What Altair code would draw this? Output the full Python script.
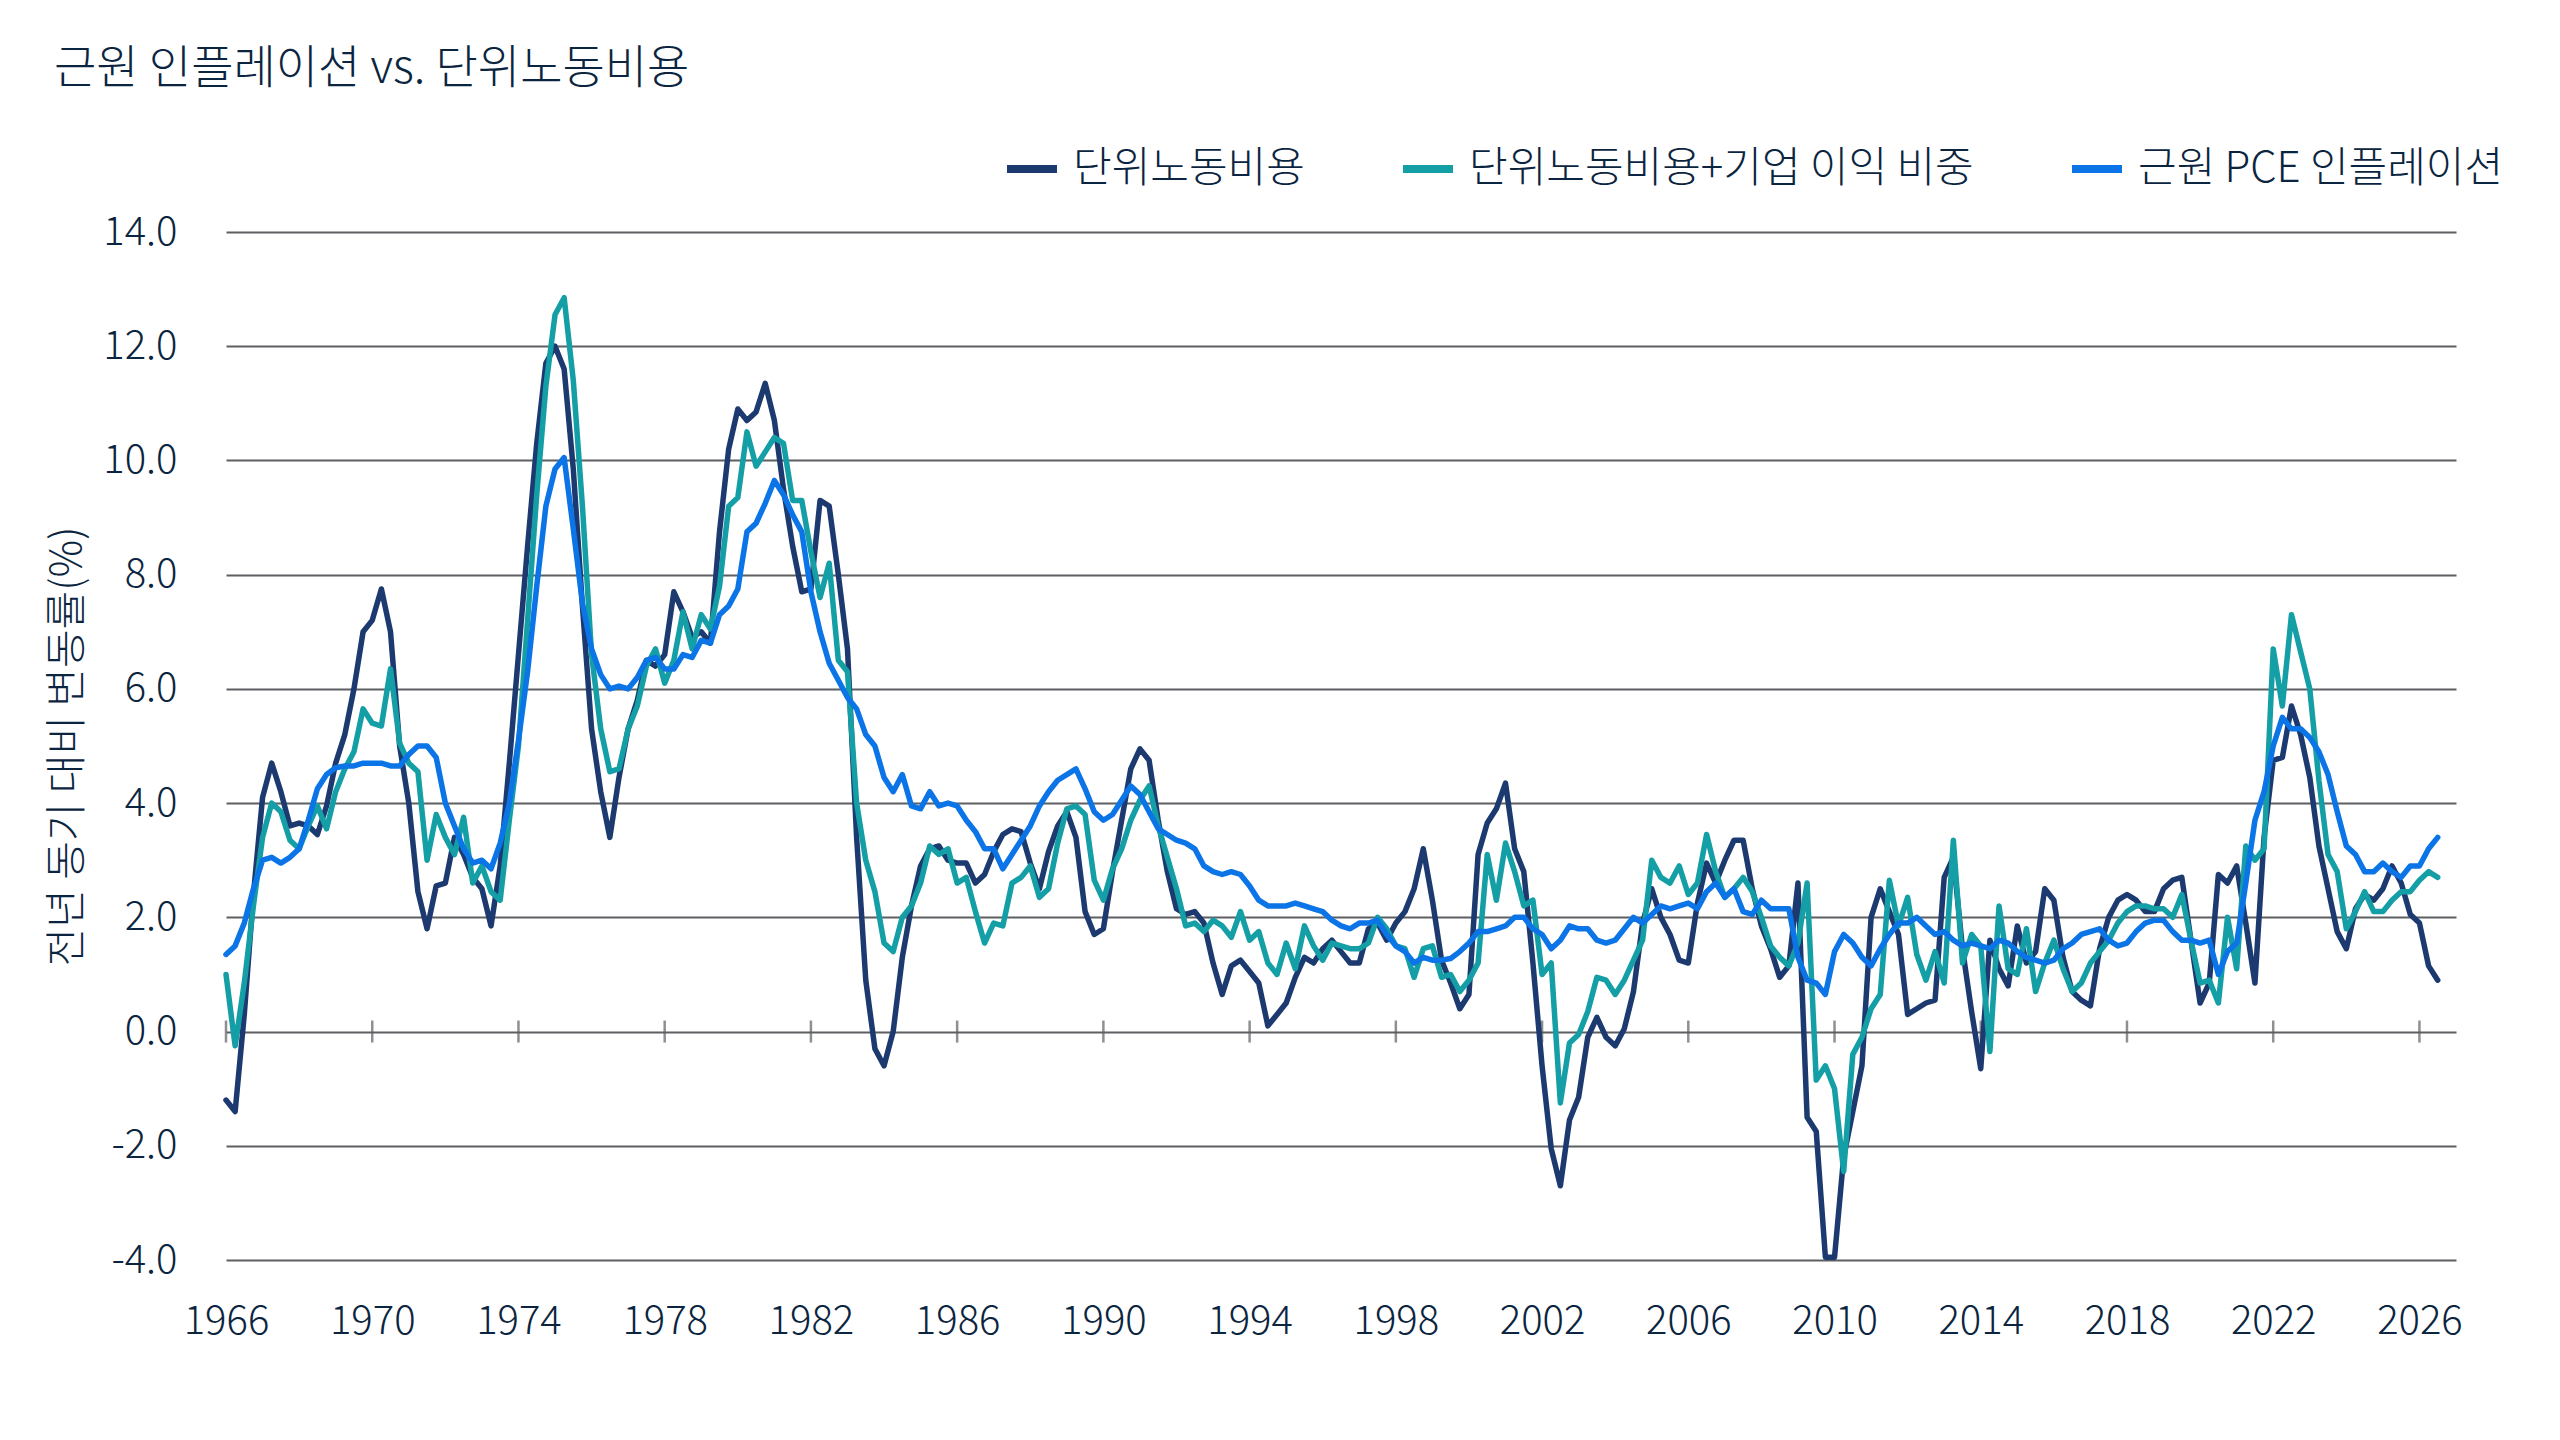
import altair as alt
import pandas as pd

# ---------------- data (quarterly, 1966Q1 .. 2026Q3), % y/y ----------------
ulc = [
    -1.2, -1.4, 0.3, 2.4,      # 1966
    4.1, 4.7, 4.2, 3.6,        # 1967
    3.65, 3.6, 3.45, 3.95,     # 1968
    4.7, 5.2, 6.0, 7.0,        # 1969
    7.2, 7.75, 7.0, 5.0,       # 1970
    4.0, 2.45, 1.8, 2.55,      # 1971
    2.6, 3.4, 3.1, 2.7,        # 1972
    2.5, 1.85, 2.9, 4.7,       # 1973
    6.6, 8.5, 10.3, 11.7,      # 1974
    12.0, 11.6, 9.85, 7.45,    # 1975
    5.3, 4.2, 3.4, 4.45,       # 1976
    5.3, 5.8, 6.5, 6.4,        # 1977
    6.6, 7.7, 7.35, 6.9,       # 1978
    7.0, 6.8, 8.75, 10.2,      # 1979
    10.9, 10.7, 10.85, 11.35,  # 1980
    10.7, 9.5, 8.5, 7.7,       # 1981
    7.75, 9.3, 9.2, 8.0,       # 1982
    6.7, 3.4, 0.9, -0.3,       # 1983
    -0.6, 0.0, 1.3, 2.2,       # 1984
    2.9, 3.2, 3.25, 3.0,       # 1985
    2.95, 2.95, 2.6, 2.75,     # 1986
    3.15, 3.45, 3.55, 3.5,     # 1987
    2.95, 2.5, 3.15, 3.6,      # 1988
    3.85, 3.4, 2.1, 1.7,       # 1989
    1.8, 2.8, 3.7, 4.6,        # 1990
    4.95, 4.75, 3.7, 2.8,      # 1991
    2.15, 2.05, 2.1, 1.9,      # 1992
    1.2, 0.65, 1.15, 1.25,     # 1993
    1.05, 0.85, 0.1, 0.3,      # 1994
    0.5, 0.95, 1.3, 1.2,       # 1995
    1.45, 1.6, 1.4, 1.2,       # 1996
    1.2, 1.8, 1.9, 1.6,        # 1997
    1.9, 2.1, 2.5, 3.2,        # 1998
    2.3, 1.25, 0.85, 0.4,      # 1999
    0.65, 3.1, 3.65, 3.9,      # 2000
    4.35, 3.2, 2.8, 1.2,       # 2001
    -0.6, -2.05, -2.7, -1.55,  # 2002
    -1.15, -0.1, 0.25, -0.1,   # 2003
    -0.25, 0.05, 0.7, 1.9,     # 2004
    2.5, 2.0, 1.7, 1.25,       # 2005
    1.2, 2.25, 2.95, 2.6,      # 2006
    3.0, 3.35, 3.35, 2.5,      # 2007
    1.85, 1.45, 0.95, 1.15,    # 2008
    2.6, -1.5, -1.75, -3.95,   # 2009
    -3.95, -2.2, -1.4, -0.6,   # 2010
    2.0, 2.5, 2.1, 1.7,        # 2011
    0.3, 0.4, 0.5, 0.55,       # 2012
    2.7, 3.05, 1.45, 0.35,     # 2013
    -0.65, 1.6, 1.1, 0.8,      # 2014
    1.85, 1.2, 1.4, 2.5,       # 2015
    2.3, 1.3, 0.7, 0.55,       # 2016
    0.45, 1.45, 2.0, 2.3,      # 2017
    2.4, 2.3, 2.1, 2.1,        # 2018
    2.5, 2.65, 2.7, 1.6,       # 2019
    0.5, 0.85, 2.75, 2.6,      # 2020
    2.9, 1.9, 0.85, 3.4,       # 2021
    4.75, 4.8, 5.7, 5.2,       # 2022
    4.45, 3.25, 2.5, 1.75,     # 2023
    1.45, 2.15, 2.4, 2.3,      # 2024
    2.5, 2.9, 2.6, 2.05,       # 2025
    1.9, 1.15, 0.9,            # 2026
]

ulc_profit = [
    1.0, -0.25, 0.85, 2.2,     # 1966
    3.4, 4.0, 3.85, 3.35,      # 1967
    3.2, 3.6, 3.95, 3.55,      # 1968
    4.2, 4.6, 4.9, 5.65,       # 1969
    5.4, 5.35, 6.35, 5.05,     # 1970
    4.7, 4.55, 3.0, 3.8,       # 1971
    3.4, 3.1, 3.75, 2.6,       # 1972
    2.9, 2.45, 2.3, 3.7,       # 1973
    5.0, 7.2, 9.4, 11.3,       # 1974
    12.55, 12.85, 11.4, 9.2,   # 1975
    6.6, 5.3, 4.55, 4.6,       # 1976
    5.3, 5.7, 6.4, 6.7,        # 1977
    6.1, 6.5, 7.35, 6.7,       # 1978
    7.3, 7.05, 7.8, 9.2,       # 1979
    9.35, 10.5, 9.9, 10.15,    # 1980
    10.4, 10.3, 9.3, 9.3,      # 1981
    8.4, 7.6, 8.2, 6.5,        # 1982
    6.3, 4.0, 3.0, 2.45,       # 1983
    1.55, 1.4, 2.0, 2.2,       # 1984
    2.6, 3.25, 3.1, 3.2,       # 1985
    2.6, 2.7, 2.1, 1.55,       # 1986
    1.9, 1.85, 2.6, 2.7,       # 1987
    2.9, 2.35, 2.5, 3.3,       # 1988
    3.9, 3.95, 3.8, 2.65,      # 1989
    2.3, 2.85, 3.2, 3.7,       # 1990
    4.05, 4.3, 3.6, 3.05,      # 1991
    2.5, 1.85, 1.9, 1.75,      # 1992
    1.95, 1.85, 1.65, 2.1,     # 1993
    1.6, 1.75, 1.2, 1.0,       # 1994
    1.55, 1.1, 1.85, 1.5,      # 1995
    1.25, 1.55, 1.5, 1.45,     # 1996
    1.45, 1.55, 2.0, 1.8,      # 1997
    1.5, 1.45, 0.95, 1.45,     # 1998
    1.5, 0.95, 1.0, 0.7,       # 1999
    0.9, 1.2, 3.1, 2.3,        # 2000
    3.3, 2.8, 2.2, 2.3,        # 2001
    1.0, 1.2, -1.25, -0.2,     # 2002
    -0.05, 0.35, 0.95, 0.9,    # 2003
    0.65, 0.9, 1.25, 1.6,      # 2004
    3.0, 2.7, 2.6, 2.9,        # 2005
    2.4, 2.6, 3.45, 2.8,       # 2006
    2.35, 2.5, 2.7, 2.45,      # 2007
    2.0, 1.5, 1.3, 1.15,       # 2008
    1.55, 2.6, -0.85, -0.6,    # 2009
    -1.0, -2.45, -0.4, -0.1,   # 2010
    0.4, 0.65, 2.65, 1.85,     # 2011
    2.35, 1.35, 0.9, 1.4,      # 2012
    0.85, 3.35, 1.2, 1.7,      # 2013
    1.5, -0.35, 2.2, 1.1,      # 2014
    1.0, 1.8, 0.7, 1.2,        # 2015
    1.6, 1.1, 0.7, 0.85,       # 2016
    1.2, 1.4, 1.6, 1.9,        # 2017
    2.1, 2.2, 2.2, 2.15,       # 2018
    2.15, 2.0, 2.4, 1.6,       # 2019
    0.85, 0.9, 0.5, 2.0,       # 2020
    1.1, 3.25, 3.0, 3.2,       # 2021
    6.7, 5.7, 7.3, 6.65,       # 2022
    6.0, 4.4, 3.1, 2.8,        # 2023
    1.8, 2.1, 2.45, 2.1,       # 2024
    2.1, 2.3, 2.45, 2.45,      # 2025
    2.65, 2.8, 2.7,            # 2026
]

core_pce = [
    1.35, 1.5, 1.9, 2.5,       # 1966
    3.0, 3.05, 2.95, 3.05,     # 1967
    3.2, 3.7, 4.25, 4.5,       # 1968
    4.62, 4.65, 4.65, 4.7,     # 1969
    4.7, 4.7, 4.65, 4.65,      # 1970
    4.85, 5.0, 5.0, 4.8,       # 1971
    4.0, 3.6, 3.2, 2.95,       # 1972
    3.0, 2.85, 3.3, 4.0,       # 1973
    5.1, 6.3, 7.8, 9.2,        # 1974
    9.85, 10.05, 8.8, 7.5,     # 1975
    6.7, 6.25, 6.0, 6.05,      # 1976
    6.0, 6.2, 6.5, 6.55,       # 1977
    6.35, 6.35, 6.6, 6.55,     # 1978
    6.85, 6.8, 7.3, 7.45,      # 1979
    7.75, 8.75, 8.9, 9.25,     # 1980
    9.65, 9.4, 9.05, 8.75,     # 1981
    7.7, 7.0, 6.45, 6.15,      # 1982
    5.85, 5.65, 5.2, 5.0,      # 1983
    4.45, 4.2, 4.5, 3.95,      # 1984
    3.9, 4.2, 3.95, 4.0,       # 1985
    3.95, 3.7, 3.5, 3.2,       # 1986
    3.2, 2.85, 3.1, 3.35,      # 1987
    3.6, 3.95, 4.2, 4.4,       # 1988
    4.5, 4.6, 4.25, 3.85,      # 1989
    3.7, 3.8, 4.05, 4.3,       # 1990
    4.15, 3.85, 3.55, 3.45,    # 1991
    3.35, 3.3, 3.2, 2.9,       # 1992
    2.8, 2.75, 2.8, 2.75,      # 1993
    2.55, 2.3, 2.2, 2.2,       # 1994
    2.2, 2.25, 2.2, 2.15,      # 1995
    2.1, 1.95, 1.85, 1.8,      # 1996
    1.9, 1.9, 1.95, 1.7,       # 1997
    1.5, 1.4, 1.2, 1.3,        # 1998
    1.25, 1.25, 1.28, 1.4,     # 1999
    1.55, 1.75, 1.75, 1.8,     # 2000
    1.85, 2.0, 2.0, 1.8,       # 2001
    1.7, 1.45, 1.6, 1.85,      # 2002
    1.8, 1.8, 1.6, 1.55,       # 2003
    1.6, 1.8, 2.0, 1.9,        # 2004
    2.05, 2.2, 2.15, 2.2,      # 2005
    2.25, 2.15, 2.45, 2.6,     # 2006
    2.35, 2.5, 2.1, 2.05,      # 2007
    2.3, 2.15, 2.15, 2.15,     # 2008
    1.3, 0.9, 0.85, 0.65,      # 2009
    1.4, 1.7, 1.55, 1.3,       # 2010
    1.15, 1.45, 1.7, 1.9,      # 2011
    1.9, 2.0, 1.85, 1.7,       # 2012
    1.75, 1.6, 1.5, 1.55,      # 2013
    1.5, 1.45, 1.6, 1.55,      # 2014
    1.4, 1.3, 1.25, 1.2,       # 2015
    1.25, 1.45, 1.55, 1.7,     # 2016
    1.75, 1.8, 1.6, 1.5,       # 2017
    1.55, 1.75, 1.9, 1.95,     # 2018
    1.95, 1.75, 1.6, 1.6,      # 2019
    1.55, 1.6, 1.0, 1.4,       # 2020
    1.55, 2.6, 3.7, 4.2,       # 2021
    5.0, 5.5, 5.3, 5.3,        # 2022
    5.15, 4.9, 4.5, 3.85,      # 2023
    3.25, 3.1, 2.8, 2.8,       # 2024
    2.95, 2.8, 2.7, 2.9,       # 2025
    2.9, 3.2, 3.4,             # 2026
]

series_names = ["단위노동비용", "단위노동비용+기업 이익 비중", "근원 PCE 인플레이션"]
series_colors = ["#1c3a70", "#149ea6", "#0b74e6"]
x_ticks = [1966, 1970, 1974, 1978, 1982, 1986, 1990, 1994, 1998, 2002, 2006, 2010, 2014, 2018, 2022, 2026]
y_ticks = [-4, -2, 0, 2, 4, 6, 8, 10, 12, 14]

title_text = "근원 인플레이션 vs. 단위노동비용"
y_title = "전년 동기 대비 변동률(%)"

# ---------------- build table ----------------
t_axis = [1966 + i * 0.25 for i in range(len(ulc))]
rows = []
for name, vals in zip(series_names, [ulc, ulc_profit, core_pce]):
    for t, v in zip(t_axis, vals):
        rows.append({"t": t, "v": v, "series": name})
df = pd.DataFrame(rows)
tick_df = pd.DataFrame({"t": x_ticks, "v": [0] * len(x_ticks)})

FONT = "Noto Sans CJK KR"
TEXT = "#0b2540"
GRID = "#5d5f62"

color = alt.Color(
    "series:N",
    scale=alt.Scale(domain=series_names, range=series_colors),
    legend=alt.Legend(
        title=None, orient="none", legendX=777, legendY=-92,
        direction="horizontal", symbolType="stroke", symbolSize=2500,
        symbolStrokeWidth=8, labelFontSize=42, labelFont=FONT, labelFontWeight=300,
        labelColor=TEXT, labelOffset=12, columnPadding=82, labelLimit=0,
    ),
)

x_enc = alt.X(
    "t:Q",
    scale=alt.Scale(domain=[1966, 2027], nice=False, zero=False),
    axis=alt.Axis(
        values=x_ticks, format="d", title=None, grid=False, ticks=False, domain=False,
        labelFontSize=40, labelFont=FONT, labelFontWeight=300, labelColor=TEXT,
        labelPadding=41, labelFlush=False, labelOverlap=False,
    ),
)
y_enc = alt.Y(
    "v:Q",
    scale=alt.Scale(domain=[-4, 14], nice=False, zero=False),
    axis=alt.Axis(
        values=y_ticks, title=y_title, grid=True, gridColor=GRID, gridWidth=2,
        ticks=False, domain=False,
        labelExpr="(datum.value < 0 ? '-' : '') + format(abs(datum.value), '.1f')",
        labelFontSize=40, labelFont=FONT, labelFontWeight=300, labelColor=TEXT,
        labelPadding=49,
        titleFont=FONT, titleFontSize=42, titleFontWeight=300, titleColor=TEXT,
        titleX=-159, titleY=514, titleAngle=270, titleAlign="center", titleBaseline="middle",
    ),
)

tick_layer = alt.Chart(tick_df).mark_tick(
    orient="vertical", size=22, thickness=2.5, color=GRID
).encode(x=x_enc, y=y_enc)

line_layers = []
for name in series_names:
    line_layers.append(
        alt.Chart(df)
        .transform_filter(alt.datum.series == name)
        .mark_line(strokeWidth=5.5, strokeJoin="round", strokeCap="round")
        .encode(x=x_enc, y=y_enc, color=color)
    )

chart = alt.layer(tick_layer, *line_layers).properties(
    width=2230,
    height=1028,
    autosize=alt.AutoSizeParams(type="none"),
    padding={"left": 218, "top": 224, "right": 60, "bottom": 140},
    background="white",
    title=alt.TitleParams(
        text=title_text, anchor="start", frame="group", fontSize=46, font=FONT,
        fontWeight=300, color=TEXT, dx=-172, dy=-27, offset=20,
    ),
).configure_view(stroke=None)

chart.save("out.html", embed_options={"renderer": "svg", "actions": False})
